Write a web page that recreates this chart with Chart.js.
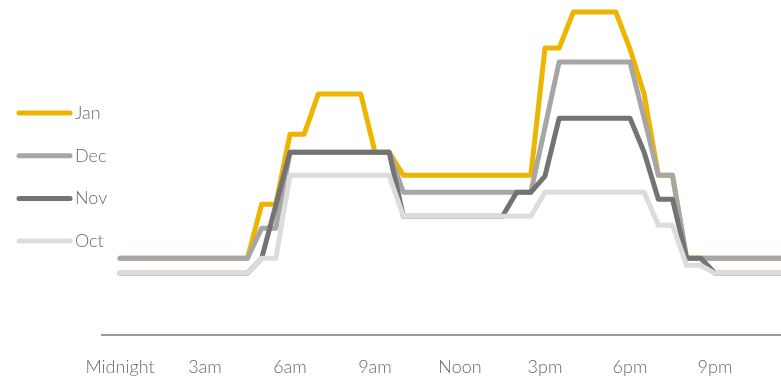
<!DOCTYPE html>
<html>
<head>
<meta charset="utf-8">
<script src="https://cdn.jsdelivr.net/npm/chart.js@4"></script>
<style>
  html, body { margin: 0; padding: 0; background: #fff; }
  .chart-wrap { position: relative; width: 781px; height: 376px; }
</style>
</head>
<body>
<div class="chart-wrap"><canvas id="load"></canvas></div>
<script>
// half-hour slots across the day
const times = [
  '00:00','00:30','01:00','01:30','02:00','02:30','03:00','03:30','04:00','04:30','05:00','05:30',
  '06:00','06:30','07:00','07:30','08:00','08:30','09:00','09:30','10:00','10:30','11:00','11:30',
  '12:00','12:30','13:00','13:30','14:00','14:30','15:00','15:30','16:00','16:30','17:00','17:30',
  '18:00','18:30','19:00','19:30','20:00','20:30','21:00','21:30','22:00','22:30','23:00','23:30'
];
const tickHours = [0, 3, 6, 9, 12, 15, 18, 21];
const tickLabels = ['Midnight', '3am', '6am', '9am', 'Noon', '3pm', '6pm', '9pm'];

const jan = [7.7,7.7,7.7,7.7,7.7,7.7,7.7,7.7,7.7,7.7,13.1,13.1,
  20.1,20.1,24.1,24.1,24.1,24.1,18.3,18.3,16.0,16.0,16.0,16.0,
  16.0,16.0,16.0,16.0,16.0,16.0,28.7,28.7,32.3,32.3,32.3,32.3,
  28.6,24.1,16.0,16.0,7.7,7.7,7.7,7.7,7.7,7.7,7.7,7.7];
const dec = [7.7,7.7,7.7,7.7,7.7,7.7,7.7,7.7,7.7,7.7,10.7,10.7,
  18.3,18.3,18.3,18.3,18.3,18.3,18.3,18.3,14.3,14.3,14.3,14.3,
  14.3,14.3,14.3,14.3,14.3,14.3,20.8,27.3,27.3,27.3,27.3,27.3,
  27.3,21.7,16.0,16.0,7.7,7.7,7.7,7.7,7.7,7.7,7.7,7.7];
const nov = [6.2,6.2,6.2,6.2,6.2,6.2,6.2,6.2,6.2,6.2,7.7,13.0,
  18.3,18.3,18.3,18.3,18.3,18.3,18.3,18.3,11.9,11.9,11.9,11.9,
  11.9,11.9,11.9,11.9,14.3,14.3,15.9,21.7,21.7,21.7,21.7,21.7,
  21.7,18.3,13.6,13.6,7.7,7.7,6.2,6.2,6.2,6.2,6.2,6.2];
const oct = [6.2,6.2,6.2,6.2,6.2,6.2,6.2,6.2,6.2,6.2,7.7,7.7,
  16.0,16.0,16.0,16.0,16.0,16.0,16.0,16.0,11.9,11.9,11.9,11.9,
  11.9,11.9,11.9,11.9,11.9,11.9,14.3,14.3,14.3,14.3,14.3,14.3,
  14.3,14.3,11.0,11.0,7.0,7.0,6.2,6.2,6.2,6.2,6.2,6.2];

const months = ['Jan', 'Dec', 'Nov', 'Oct'];
const colours = ['#edb500', '#a6a6a6', '#737373', '#dcdcdc'];
const series = [jan, dec, nov, oct];

const FONT = 'Lato, "Open Sans", sans-serif';
const TEXT = '#6a6a6a';

function toHours(t) {
    const [h, m] = t.split(':').map(Number);
    return h + m / 60;
}

// legend drawn in the left margin, one row per month
const sideLegend = {
    id: 'sideLegend',
    afterDraw(chart) {
        const c = chart.ctx;
        c.save();
        chart.data.datasets.forEach((ds, i) => {
            const y = 113 + i * 42.7;
            c.strokeStyle = ds.borderColor; c.lineWidth = 5; c.lineCap = 'round';
            c.beginPath(); c.moveTo(19, y); c.lineTo(70, y); c.stroke();
            c.fillStyle = TEXT; c.font = '300 18px ' + FONT;
            c.textBaseline = 'middle'; c.textAlign = 'left';
            c.fillText(ds.label, 75, y);
        });
        c.restore();
    }
};

new Chart(document.getElementById('load'), {
    type: 'line',
    data: {
        datasets: series.map((vals, i) => ({
            label: months[i],
            data: vals.map((v, k) => ({ x: toHours(times[k]), y: v })),
            borderColor: colours[i],
            borderWidth: 5,
            borderCapStyle: 'round',
            borderJoinStyle: 'round',
            pointRadius: 0,
            tension: 0,
            order: 4 - i
        }))
    },
    options: {
        responsive: true, maintainAspectRatio: false, animation: false,
        layout: { padding: { left: 102, right: 0, top: 0, bottom: -23 } },
        plugins: { legend: { display: false }, tooltip: { enabled: false } },
        scales: {
            x: {
                type: 'linear', min: -0.635, max: 23.33,
                grid: { display: false, drawTicks: false },
                border: { display: true, color: '#9a9a9a', width: 2 },
                afterBuildTicks: s => { s.ticks = tickHours.map(v => ({ value: v })); },
                ticks: {
                    autoSkip: false, maxRotation: 0, padding: 21, color: TEXT,
                    font: { family: FONT, size: 18, weight: '300' },
                    callback: v => tickLabels[tickHours.indexOf(v)]
                }
            },
            y: { display: false, min: 0, max: 33.5 }
        }
    },
    plugins: [sideLegend]
});
</script>
</body>
</html>
